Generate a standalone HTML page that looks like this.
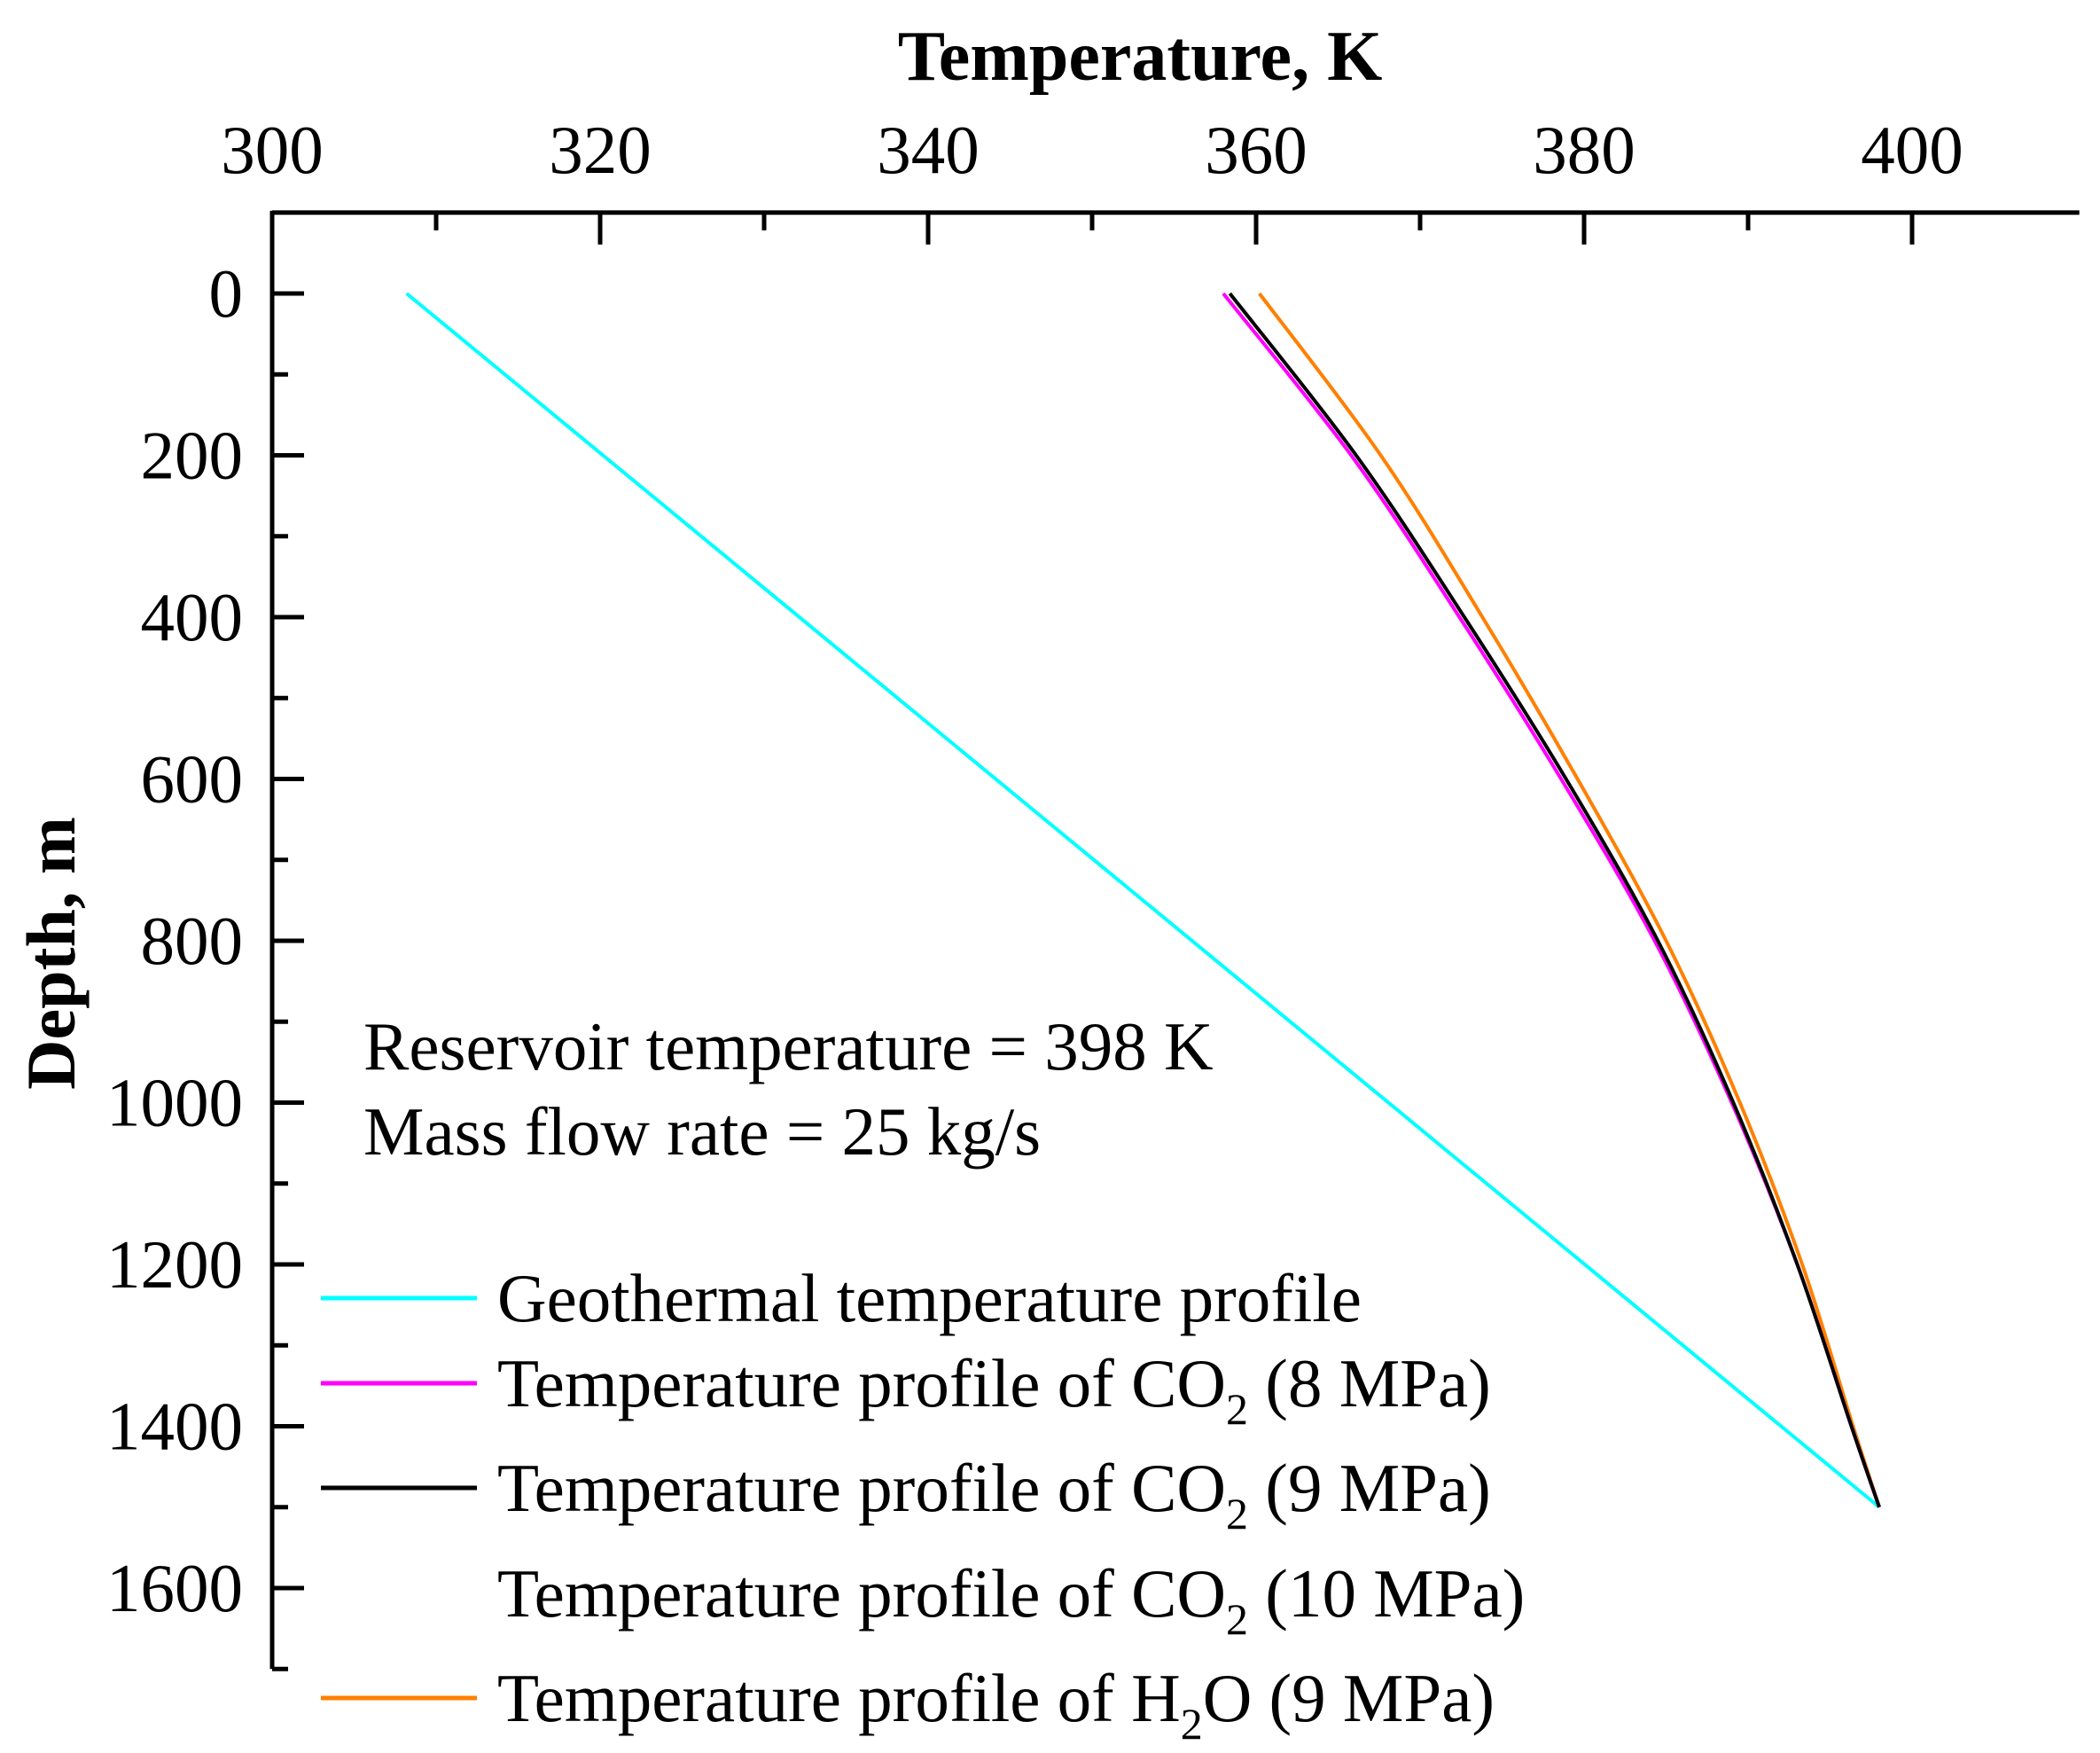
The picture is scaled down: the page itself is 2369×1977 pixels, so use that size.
<!DOCTYPE html>
<html><head><meta charset="utf-8"><style>
html,body{margin:0;padding:0;background:#fff;}
svg{display:block;font-family:"Liberation Serif",serif;}
</style></head><body>
<svg id="chart" width="2369" height="1977" viewBox="0 0 2369 1977" xmlns="http://www.w3.org/2000/svg">
<g id="axes"></g>
<g id="series"></g>
<text x="1286" y="90" font-size="80" font-weight="bold" text-anchor="middle">Temperature, K</text>
<text transform="translate(84,1075) rotate(-90)" font-size="78" font-weight="bold" text-anchor="middle">Depth, m</text>
<text x="410" y="1206" font-size="77">Reservoir temperature = 398 K</text>
<text x="410" y="1302" font-size="77">Mass flow rate = 25 kg/s</text>
<g id="legend"></g>
</svg>
<script>
const depths = [0, 200, 400, 600, 800, 1000, 1200, 1400, 1500];
const geoDepths = [0, 1500];
const geoTemps = [308.2, 398];
const co2_8 = [358.0, 365.8, 372.4, 378.6, 384.3, 389.0, 393.0, 396.3, 398];
const co2_9 = [358.4, 366.1, 372.7, 378.9, 384.5, 389.1, 393.0, 396.3, 398];
const h2o_9 = [360.2, 367.6, 373.8, 379.6, 385.0, 389.5, 393.3, 396.4, 398];
const xTicks = [300, 320, 340, 360, 380, 400];
const yTicks = [0, 200, 400, 600, 800, 1000, 1200, 1400, 1600];

const NS = "http://www.w3.org/2000/svg";
const X0 = 307, PXK = 18.5, Y0 = 331, PXM = 0.9125;
const xMin = 300, xMax = 410.2, yMin = -100, yMax = 1700;
const sx = t => X0 + (t - 300) * PXK;
const sy = d => Y0 + d * PXM;
function mk(tag, attrs, parent) {
  const e = document.createElementNS(NS, tag);
  for (const k in attrs) e.setAttribute(k, attrs[k]);
  parent.appendChild(e);
  return e;
}
const axes = document.getElementById('axes');
let e = mk('line', {x1: sx(xMin), y1: sy(yMin), x2: sx(xMax), y2: sy(yMin), stroke: '#000', 'stroke-width': 5}, axes);


e = mk('line', {x1: sx(xMin), y1: sy(yMin) - 2, x2: sx(xMin), y2: sy(yMax), stroke: '#000', 'stroke-width': 5}, axes);


for (let t = 300; t <= 400; t += 10) {
  const major = t % 20 === 0;
  e = mk('line', {x1: sx(t), y1: sy(yMin), x2: sx(t), y2: sy(yMin) + (major ? 36 : 20), stroke: '#000', 'stroke-width': 5}, axes);
  
  
}
xTicks.forEach(t => {
  const tx = mk('text', {x: sx(t), y: 195, 'font-size': 77, 'text-anchor': 'middle'}, axes);
  tx.textContent = t;
  
  
});
for (let d = 0; d <= 1700; d += 100) {
  const major = d % 200 === 0;
  e = mk('line', {x1: sx(xMin), y1: sy(d), x2: sx(xMin) + (major ? 36 : 18), y2: sy(d), stroke: '#000', 'stroke-width': 5}, axes);
  
  
}
yTicks.forEach(d => {
  const tx = mk('text', {x: 274, y: sy(d) + 26, 'font-size': 77, 'text-anchor': 'end'}, axes);
  tx.textContent = d;
  
  
});
const series = document.getElementById('series');
function line(ds, ts, color, name) {
  const P = ds.map((d, i) => [sx(ts[i]), sy(d)]);
  let dstr = 'M' + P[0][0] + ',' + P[0][1];
  for (let i = 0; i < P.length - 1; i++) {
    const p0 = P[Math.max(0, i - 1)], p1 = P[i], p2 = P[i + 1], p3 = P[Math.min(P.length - 1, i + 2)];
    const c1 = [p1[0] + (p2[0] - p0[0]) / 6, p1[1] + (p2[1] - p0[1]) / 6];
    const c2 = [p2[0] - (p3[0] - p1[0]) / 6, p2[1] - (p3[1] - p1[1]) / 6];
    dstr += ' C' + c1[0] + ',' + c1[1] + ' ' + c2[0] + ',' + c2[1] + ' ' + p2[0] + ',' + p2[1];
  }
  const p = mk('path', {d: dstr, fill: 'none', stroke: color, 'stroke-width': 4, 'stroke-linejoin': 'round'}, series);
  
  
}
line(geoDepths, geoTemps, '#00ffff', 'geothermal-line');
line(depths, h2o_9, '#ff8000', 'h2o-9mpa-line');
line(depths, co2_8, '#ff00ff', 'co2-8mpa-line');
line(depths, co2_9, '#000000', 'co2-9mpa-line');

const legend = document.getElementById('legend');
const entries = [
  {y: 1464, color: '#00ffff', parts: [['Geothermal temperature profile']]},
  {y: 1560, color: '#ff00ff', parts: [['Temperature profile of CO'], ['2', 1], [' (8 MPa)']]},
  {y: 1678, color: '#000000', parts: [['Temperature profile of CO'], ['2', 1], [' (9 MPa)']]},
  {y: 1797, color: null, parts: [['Temperature profile of CO'], ['2', 1], [' (10 MPa)']]},
  {y: 1915, color: '#ff8000', parts: [['Temperature profile of H'], ['2', 1], ['O (9 MPa)']]}
];
entries.forEach(en => {
  const g = mk('g', {}, legend);
  
  
  if (en.color) mk('line', {x1: 362, y1: en.y, x2: 538, y2: en.y, stroke: en.color, 'stroke-width': 5}, g);
  const tx = mk('text', {x: 561, y: en.y + 26, 'font-size': 77}, g);
  en.parts.forEach(p => {
    const ts = mk('tspan', p[1] ? {'font-size': 50, dy: 20} : {}, tx);
    ts.textContent = p[0];
  });
  const spans = tx.querySelectorAll('tspan');
  if (spans.length === 3) spans[2].setAttribute('dy', -20);
});
</script>
</body></html>
